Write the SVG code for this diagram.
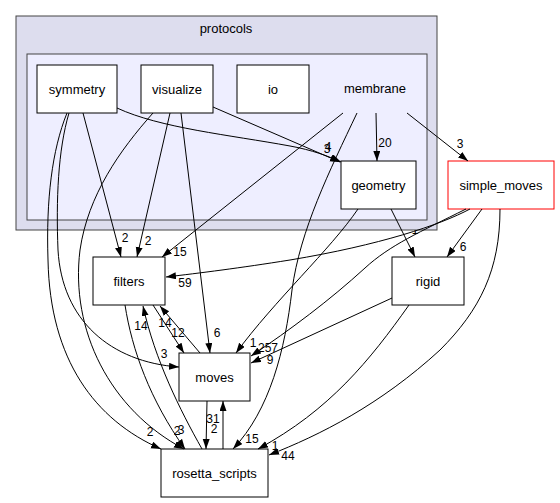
<svg xmlns="http://www.w3.org/2000/svg" width="560" height="503" viewBox="0 0 560 503">
<style>
text{font-family:"Liberation Sans",Arial,sans-serif;fill:#000}
.nt{font-size:13px;text-anchor:middle}
.el{font-size:12px;text-anchor:middle}
.node rect{fill:#fff;stroke:#000;stroke-width:1}
.edges path{fill:none;stroke:#000;stroke-width:1}
</style>
<defs>
<marker id="ah" markerUnits="userSpaceOnUse" markerWidth="11" markerHeight="8" refX="10" refY="3.5" orient="auto">
<path d="M0,0 L10,3.5 L0,7 z" fill="#000"/>
</marker>
</defs>
<text class="el" x="415" y="234">1</text>
<g id="cluster-protocols">
<rect x="16" y="16" width="421" height="214" fill="#ddddee" stroke="#444"/>
<text class="nt" x="226" y="33">protocols</text>
</g>
<g id="cluster-membrane">
<rect x="27" y="54" width="400" height="166" fill="#eeeeff" stroke="#444"/>
<text class="nt" x="375" y="93">membrane</text>
</g>
<g id="symmetry" class="node"><rect x="37" y="65" width="80" height="48"/><text class="nt" x="77" y="93.5">symmetry</text></g>
<g id="visualize" class="node"><rect x="141" y="65" width="72" height="48"/><text class="nt" x="177" y="93.5">visualize</text></g>
<g id="io" class="node"><rect x="237" y="65" width="72" height="48"/><text class="nt" x="273" y="93.5">io</text></g>
<g id="geometry" class="node"><rect x="341" y="161" width="75" height="48"/><text class="nt" x="378.5" y="189.5">geometry</text></g>
<g id="simple_moves" class="node"><rect x="448" y="161" width="106" height="48" style="stroke:#ff0000"/><text class="nt" x="501" y="189.5">simple_moves</text></g>
<g id="filters" class="node"><rect x="93" y="257" width="72" height="48"/><text class="nt" x="129" y="285.5">filters</text></g>
<g id="rigid" class="node"><rect x="392" y="257" width="72" height="48"/><text class="nt" x="428" y="285.5">rigid</text></g>
<g id="moves" class="node"><rect x="179" y="353" width="71" height="48"/><text class="nt" x="214.5" y="381.5">moves</text></g>
<g id="rosetta_scripts" class="node"><rect x="161" y="449" width="107" height="48"/><text class="nt" x="214.5" y="477.5">rosetta_scripts</text></g>
<g class="edges" id="edges">
<path marker-end="url(#ah)" d="M117,108 C160,128 230,135 290,146 C312,150 328,156 341,162"/>
<path marker-end="url(#ah)" d="M213,107 L340,162"/>
<path marker-end="url(#ah)" d="M376,113 L377,161"/>
<path marker-end="url(#ah)" d="M407,113 L468,161"/>
<path marker-end="url(#ah)" d="M343,113 L162,257"/>
<path marker-end="url(#ah)" d="M357,113 C330,170 300,230 292,290 C285,350 270,410 233,449"/>
<path marker-end="url(#ah)" d="M83,113 L121,257"/>
<path marker-end="url(#ah)" d="M170,113 L137,257"/>
<path marker-end="url(#ah)" d="M181,113 L210,353"/>
<path marker-end="url(#ah)" d="M153,113 C120,150 88,195 80,250 C70,330 110,410 184,449"/>
<path marker-end="url(#ah)" d="M67,113 C52,150 46,200 48,260 C50,360 95,420 161,449"/>
<path marker-end="url(#ah)" d="M69,113 C58,150 56,200 58,250 C62,320 110,362 179,367"/>
<path marker-end="url(#ah)" d="M358,209 C330,250 275,300 236,353"/>
<path marker-end="url(#ah)" d="M391,209 L415,257"/>
<path marker-end="url(#ah)" d="M470,209 C440,225 380,245 290,260 C240,268 200,273 166,277"/>
<path marker-end="url(#ah)" d="M466,209 C420,232 390,245 365,268 C330,300 290,330 251,356"/>
<path marker-end="url(#ah)" d="M482,209 L447,257"/>
<path marker-end="url(#ah)" d="M500,209 C500,270 480,310 440,350 C380,405 320,435 269,455"/>
<path marker-end="url(#ah)" d="M392,298 L251,363"/>
<path marker-end="url(#ah)" d="M409,305 C370,360 330,410 258,449"/>
<path marker-end="url(#ah)" d="M153,305 L184,353"/>
<path marker-end="url(#ah)" d="M200,353 L160,306"/>
<path marker-end="url(#ah)" d="M202,449 C180,410 155,360 143,306"/>
<path marker-end="url(#ah)" d="M125,305 C132,350 150,400 185,449"/>
<path marker-end="url(#ah)" d="M207,401 L206,449"/>
<path marker-end="url(#ah)" d="M223,449 L223,401"/>
</g>
<g id="edge-labels">
<text class="el" x="327" y="153">3</text>
<text class="el" x="328" y="151">4</text>
<text class="el" x="385" y="147">20</text>
<text class="el" x="460" y="148">3</text>
<text class="el" x="463" y="251">6</text>
<text class="el" x="185" y="287">59</text>
<text class="el" x="180" y="256">15</text>
<text class="el" x="125" y="242">2</text>
<text class="el" x="148" y="245">2</text>
<text class="el" x="141" y="330">14</text>
<text class="el" x="165" y="327">14</text>
<text class="el" x="178" y="337">12</text>
<text class="el" x="217" y="337">6</text>
<text class="el" x="164" y="358">3</text>
<text class="el" x="253" y="347">1</text>
<text class="el" x="268" y="352">257</text>
<text class="el" x="270" y="364">9</text>
<text class="el" x="213" y="423">31</text>
<text class="el" x="214" y="433">2</text>
<text class="el" x="150" y="436">2</text>
<text class="el" x="177" y="435">2</text>
<text class="el" x="181" y="434">3</text>
<text class="el" x="252" y="443">15</text>
<text class="el" x="275" y="450">1</text>
<text class="el" x="288" y="460">44</text>
</g>
</svg>
